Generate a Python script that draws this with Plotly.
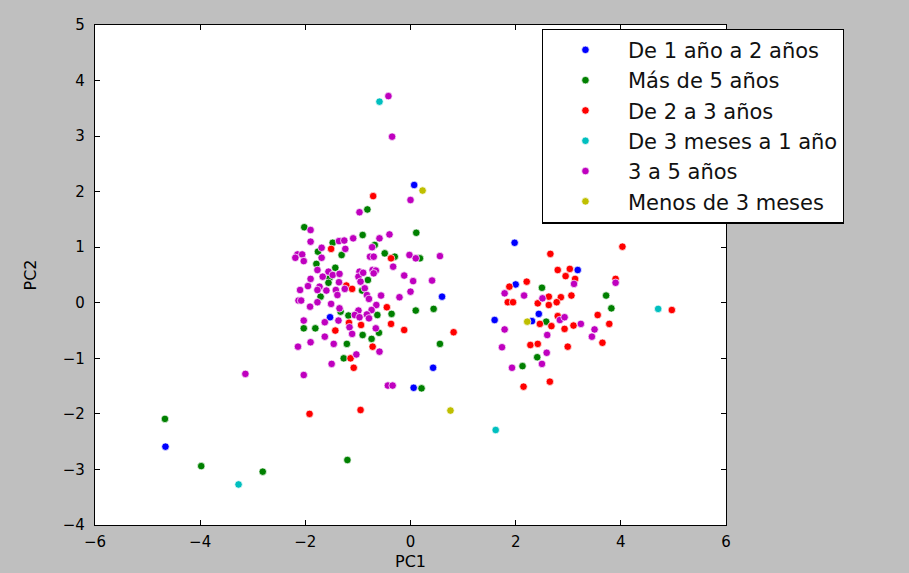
import plotly.graph_objects as go

# Category names (legend order) and matplotlib classic colours
names = ["De 1 año a 2 años", "Más de 5 años", "De 2 a 3 años",
         "De 3 meses a 1 año", "3 a 5 años", "Menos de 3 meses"]
colors = ["#0000ff", "#008000", "#ff0000", "#00bfbf", "#bf00bf", "#bfbf00"]

# Series values (PC1, PC2)
blue_x = [0.07, 0.60, -1.53, 0.43, 0.06, -4.66, 1.98, 3.18, 2.00, 2.44, 1.60, 2.31]
blue_y = [2.12, 0.11, -0.26, -1.17, -1.53, -2.59, 1.08, 0.59, 0.33, -0.20, -0.31, -0.33]

green_x = [-0.82, -2.02, -0.91, 0.11, -1.48, -0.68, -1.76, -1.31, -0.49, -0.30, 0.18,
           -1.79, -1.43, -1.54, -0.81, -1.56, -0.92, -1.71, 0.10, 0.44, -1.33, -0.36,
           -1.18, -0.63, -2.03, -1.81, -0.60, -0.91, -0.74, 0.56, -1.21, -1.27, 0.21,
           -1.20, -4.67, -3.98, -2.81, 2.50, 3.72, 3.82, 2.58, 2.41, 2.13]
green_y = [1.68, 1.36, 1.22, 1.26, 1.08, 1.04, 0.92, 0.86, 0.89, 0.83, 0.80,
           0.70, 0.63, 0.44, 0.41, 0.36, 0.22, 0.11, -0.14, -0.11, -0.16, -0.20,
           -0.23, -0.22, -0.46, -0.46, -0.54, -0.58, -0.65, -0.74, -0.74, -1.00, -1.54,
           -2.83, -2.09, -2.94, -3.04, 0.27, 0.13, -0.10, -0.34, -0.98, -1.14]

red_x = [-0.71, -1.51, -0.37, -1.22, -1.11, -0.45, -1.17, -0.94, -0.37, -0.12, -1.43,
         0.82, -0.72, -1.14, -1.08, -1.92, -0.95,
         4.03, 2.66, 2.80, 3.03, 2.95, 3.13, 3.90, 2.21, 1.88, 2.63, 2.86, 3.06, 1.85,
         1.95, 2.42, 2.63, 2.78, 4.97, 2.80, 3.56, 2.46, 2.68, 2.93, 3.10, 3.78, 3.65,
         2.28, 2.42, 2.99, 2.65, 2.15]
red_y = [1.92, 0.97, 0.80, 0.31, 0.25, -0.08, -0.36, -0.40, -0.38, -0.49, -0.50,
         -0.53, -0.79, -1.00, -1.17, -2.00, -1.93,
         1.01, 0.88, 0.59, 0.61, 0.48, 0.43, 0.43, 0.38, 0.29, 0.11, 0.10, 0.13, 0.01,
         0.01, -0.01, -0.04, 0.01, -0.13, -0.24, -0.22, -0.38, -0.42, -0.47, -0.41, -0.38, -0.72,
         -0.76, -0.74, -0.79, -1.42, -1.51]

cyan_x = [-0.59, 1.62, -3.27, 4.71]
cyan_y = [3.62, -2.29, -3.27, -0.11]

magenta_x = [-0.42, -0.35, 0.00, -0.97, -1.90, -0.59, -0.40, -1.90, -1.36, -1.26, -1.09,
             -1.69, -1.24, -0.73, -2.15, -2.06, -2.19, -2.03, -1.69, -0.77, -0.70, -0.02,
             0.10, 0.56, -0.33, -1.77, -1.56, -0.97, -0.72, -0.66, -1.67, -1.48, -1.35,
             -0.99, -0.90, -0.70, -0.12, -1.90, -0.95, -1.36, 0.05, 0.41, -1.95, -1.73,
             -1.77, -1.60, -1.42, -1.25, -0.87, -0.83, -2.10, 0.00, -1.39, -0.56, -0.79,
             -0.21, -2.13, -2.08, -1.77, -1.51, -0.65, -1.91, -1.35, -0.74, -0.99, -1.06,
             -0.97, -0.83, -0.79, -1.37, -2.03, -1.63, -1.16, -0.66, -1.11, -1.63, -1.90,
             -1.46, -2.14, -0.59, -1.03, -1.50, -2.03, -0.43, -0.34, -3.14,
             3.11, 3.90, 1.79, 2.16, 2.51, 2.84, 2.93, 3.24, 1.79, 3.50, 2.60, 3.45,
             1.74, 2.59, 2.50, 1.93]
magenta_y = [3.72, 2.99, 1.85, 1.63, 1.31, 1.16, 1.23, 1.10, 1.11, 1.12, 1.16,
             0.99, 0.97, 1.00, 0.87, 0.87, 0.81, 0.75, 0.81, 0.83, 0.83, 0.86,
             0.80, 0.84, 0.65, 0.59, 0.56, 0.56, 0.59, 0.58, 0.47, 0.50, 0.52,
             0.47, 0.54, 0.53, 0.49, 0.43, 0.38, 0.37, 0.39, 0.40, 0.30, 0.29,
             0.23, 0.22, 0.23, 0.25, 0.26, 0.14, 0.23, 0.20, 0.14, 0.13, 0.07,
             0.10, 0.04, 0.04, 0.01, -0.02, -0.04, -0.07, -0.10, -0.13, -0.14, -0.22,
             -0.26, -0.21, -0.28, -0.32, -0.32, -0.35, -0.44, -0.46, -0.56, -0.61, -0.71,
             -0.74, -0.79, -0.88, -0.93, -1.10, -1.30, -1.49, -1.49, -1.28,
             0.34, 0.36, 0.17, 0.13, 0.08, -0.31, -0.26, -0.38, -0.48, -0.48, -0.58, -0.61,
             -0.80, -0.90, -1.10, -1.17]

yellow_x = [0.23, 0.76, 2.22]
yellow_y = [2.02, -1.94, -0.34]

xs = [blue_x, green_x, red_x, cyan_x, magenta_x, yellow_x]
ys = [blue_y, green_y, red_y, cyan_y, magenta_y, yellow_y]

x_ticks = [-6, -4, -2, 0, 2, 4, 6]
y_ticks = [-4, -3, -2, -1, 0, 1, 2, 3, 4, 5]

fig = go.Figure()
for name, color, x, y in zip(names, colors, xs, ys):
    fig.add_trace(go.Scatter(
        x=x, y=y, mode="markers", name=name,
        marker=dict(color=color, size=7.5, line=dict(color="white", width=0.7)),
    ))

axis_common = dict(
    showgrid=False, zeroline=False, showline=True, linecolor="black", linewidth=1.2,
    mirror="allticks", ticks="inside", ticklen=5, tickcolor="black", tickwidth=1,
    tickfont=dict(size=15, color="black"), automargin=False,
)

fig.update_layout(
    width=909, height=573,
    paper_bgcolor="#bfbfbf", plot_bgcolor="white",
    margin=dict(l=95, r=183, t=25, b=48),
    font=dict(family="DejaVu Sans", color="black"),
    xaxis=dict(range=[-6, 6], tickvals=x_ticks,
               title=dict(text="PC1", font=dict(size=16), standoff=5),
               ticklabelstandoff=3, **axis_common),
    yaxis=dict(range=[-4, 5], tickvals=y_ticks,
               title=dict(text="PC2", font=dict(size=16), standoff=22),
               ticklabelstandoff=6, **axis_common),
    legend=dict(x=0.708, y=0.993, xanchor="left", yanchor="top",
                bgcolor="white", bordercolor="black", borderwidth=1.2,
                font=dict(size=21, color="#111111"), itemwidth=75),
    showlegend=True,
)

fig.write_html("out.html", config={"displayModeBar": False},
               post_script="document.body.style.margin='0';")
